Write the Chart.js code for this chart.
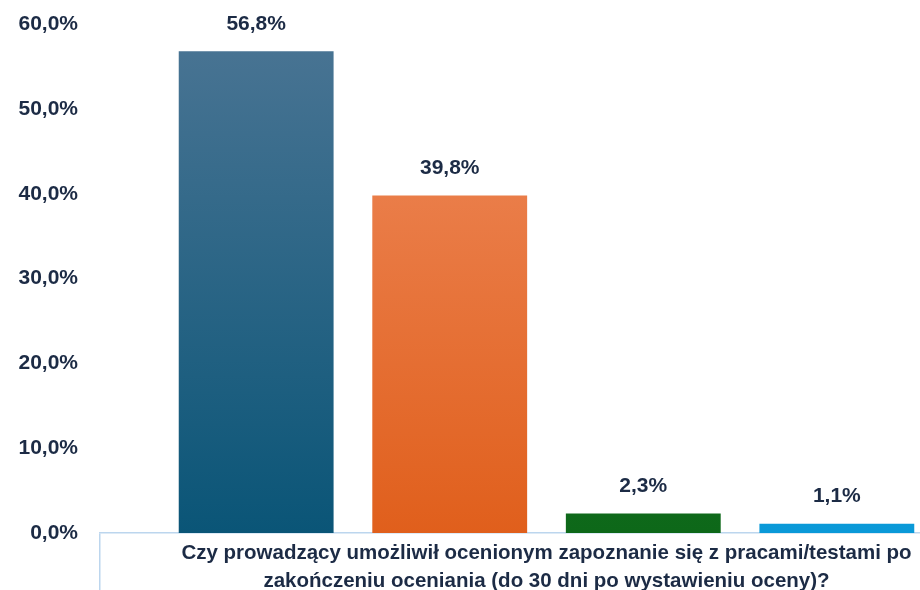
<!DOCTYPE html>
<html>
<head>
<meta charset="utf-8">
<script src="https://cdn.jsdelivr.net/npm/chart.js@4/dist/chart.umd.min.js"></script>
<style>
  html, body { margin: 0; padding: 0; background: #fff; overflow: hidden; }
  #wrap { width: 1000px; height: 590px; }
</style>
</head>
<body>
<div id="wrap"><canvas id="myChart" width="1000" height="590"></canvas></div>
<script>
// data
var categories = [['Czy prowadzący umożliwił ocenionym zapoznanie się z pracami/testami po', 'zakończeniu oceniania (do 30 dni po wystawieniu oceny)?']];
var seriesNames = ['Tak', 'Raczej tak', 'Raczej nie', 'Nie'];
var seriesValues = [56.8, 39.8, 2.3, 1.1];
var yTicks = [0, 10, 20, 30, 40, 50, 60];

// top / bottom gradient colours per bar
var gradTop = ['#4b7594', '#ef8c5f', '#2b7a2d', '#2aa7e2'];
var gradBottom = ['#0a5577', '#e05f1c', '#0d6819', '#0a99d8'];

var txtColor = '#1c2b45';
var fontFam = '"Liberation Sans", Arial, sans-serif';

function fmt(v) {
    return v.toFixed(1).replace('.', ',') + '%';
}

function gradient(i) {
    return function (c) {
        var area = c.chart.chartArea;
        if (!area) return gradBottom[i];
        var g = c.chart.ctx.createLinearGradient(0, area.top, 0, area.bottom);
        g.addColorStop(0, gradTop[i]);
        g.addColorStop(1, gradBottom[i]);
        return g;
    };
}

var datasets = seriesValues.map(function (v, i) {
    return {
        label: seriesNames[i],
        data: [v],
        backgroundColor: gradient(i),
        categoryPercentage: 0.867,
        barPercentage: 0.80
    };
});

// value labels above the bars
var valueLabels = {
    id: 'valueLabels',
    afterDatasetsDraw: function (chart) {
        var ctx = chart.ctx;
        ctx.save();
        ctx.font = 'bold 21px ' + fontFam;
        ctx.fillStyle = txtColor;
        ctx.textAlign = 'center';
        ctx.textBaseline = 'bottom';
        chart.data.datasets.forEach(function (ds, i) {
            var bar = chart.getDatasetMeta(i).data[0];
            ctx.fillText(fmt(ds.data[0]), bar.x, bar.y - 17);
        });
        ctx.restore();
    }
};

var ctx = document.getElementById('myChart').getContext('2d');
var myChart = new Chart(ctx, {
    type: 'bar',
    data: {
        labels: categories,
        datasets: datasets
    },
    options: {
        responsive: false,
        animation: false,
        layout: { padding: { top: 21, right: 7, left: 0, bottom: 0 } },
        plugins: {
            legend: { display: false },
            tooltip: { enabled: false }
        },
        scales: {
            x: {
                grid: {
                    drawOnChartArea: false,
                    drawTicks: true,
                    tickLength: 60,
                    color: '#bcd6ee',
                    lineWidth: 1.5
                },
                border: { display: true, color: '#bcd6ee', width: 1.5 },
                ticks: {
                    color: txtColor,
                    font: { family: fontFam, size: 20.5, weight: 'bold', lineHeight: 1.35 },
                    padding: -53,
                    maxRotation: 0,
                    autoSkip: false
                },
                afterFit: function (s) { s.height = 57; }
            },
            y: {
                min: 0,
                max: 60,
                afterBuildTicks: function (s) {
                    s.ticks = yTicks.map(function (v) { return { value: v }; });
                },
                grid: { display: false, drawTicks: false },
                border: { display: false },
                ticks: {
                    color: txtColor,
                    font: { family: fontFam, size: 21, weight: 'bold', lineHeight: 0.2 },
                    padding: 22,
                    callback: function (v) { return fmt(v); }
                },
                afterFit: function (s) { s.width = 100; }
            }
        }
    },
    plugins: [valueLabels]
});
</script>
</body>
</html>
